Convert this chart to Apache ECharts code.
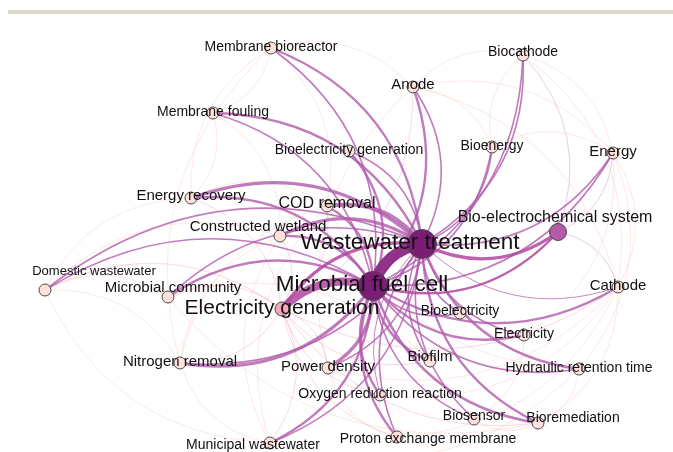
<!DOCTYPE html>
<html>
<head>
<meta charset="utf-8">
<script src="https://cdn.jsdelivr.net/npm/echarts@6/dist/echarts.min.js"></script>
<style>
html, body { margin: 0; padding: 0; background: #fff; }
#main { width: 673px; height: 452px; }
</style>
</head>
<body>
<div id="main"></div>
<script>
// keywords and their occurrence counts
var keywords = [
    "Microbial fuel cell", "Wastewater treatment", "Electricity generation", "Bio-electrochemical system",
    "Membrane bioreactor", "Biocathode", "Anode", "Membrane fouling", "Bioelectricity generation",
    "Bioenergy", "Energy", "Energy recovery", "COD removal", "Constructed wetland",
    "Domestic wastewater", "Microbial community", "Cathode", "Bioelectricity", "Electricity",
    "Biofilm", "Hydraulic retention time", "Nitrogen removal", "Power density",
    "Oxygen reduction reaction", "Biosensor", "Bioremediation", "Proton exchange membrane",
    "Municipal wastewater"
];
var occurrences = [120, 100, 30, 40, 10, 9, 12, 10, 11, 9, 10, 12, 13, 12, 9, 11, 10, 9, 10, 10, 10, 11, 12, 10, 9, 9, 10, 9];

// co-occurrence links: [source, target, weight]
var links = [
    // faint links between minor keywords
    ["Membrane bioreactor", "Membrane fouling", 1],
    ["Membrane bioreactor", "Anode", 1],
    ["Energy recovery", "Membrane bioreactor", 1],
    ["Membrane bioreactor", "COD removal", 1],
    ["Nitrogen removal", "Membrane bioreactor", 1],
    ["Membrane fouling", "Energy recovery", 1],
    ["Membrane fouling", "Constructed wetland", 1],
    ["Anode", "Cathode", 1],
    ["Anode", "Biocathode", 1],
    ["Anode", "Bioenergy", 1],
    ["Anode", "Energy", 1],
    ["Biocathode", "Cathode", 1],
    ["Bioenergy", "Biocathode", 1],
    ["Biocathode", "Energy", 1],
    ["Bioenergy", "Energy", 1],
    ["Energy", "Cathode", 1],
    ["Energy", "Hydraulic retention time", 1],
    ["Cathode", "Proton exchange membrane", 1],
    ["Cathode", "Oxygen reduction reaction", 1],
    ["Cathode", "Bioremediation", 1],
    ["Domestic wastewater", "Nitrogen removal", 1],
    ["Municipal wastewater", "Domestic wastewater", 1],
    ["Domestic wastewater", "Microbial community", 1],
    ["Domestic wastewater", "Constructed wetland", 1],
    ["Domestic wastewater", "Energy recovery", 1],
    ["Nitrogen removal", "Constructed wetland", 1],
    ["Municipal wastewater", "Nitrogen removal", 1],
    ["Nitrogen removal", "COD removal", 1],
    ["Municipal wastewater", "COD removal", 1],
    ["Municipal wastewater", "Constructed wetland", 1],
    ["Hydraulic retention time", "Municipal wastewater", 1],
    ["Proton exchange membrane", "Oxygen reduction reaction", 1],
    ["Proton exchange membrane", "Power density", 1],
    ["Power density", "Anode", 1],
    ["Cathode", "Power density", 1],
    ["Bioremediation", "Biosensor", 1],
    ["Hydraulic retention time", "Bioremediation", 1],
    ["Bioremediation", "Microbial community", 1],
    ["Electricity", "Biosensor", 1],
    ["Hydraulic retention time", "COD removal", 1],
    ["Energy recovery", "COD removal", 1],
    ["Microbial community", "Biofilm", 1],
    ["Electricity", "Bioelectricity", 1],
    ["Energy", "Electricity", 1],
    ["Bio-electrochemical system", "Cathode", 1],
    ["Energy", "Bio-electrochemical system", 1],
    ["Biocathode", "Bio-electrochemical system", 1],
    // links to electricity generation
    ["Domestic wastewater", "Electricity generation", 1],
    ["Microbial community", "Electricity generation", 1],
    ["Electricity generation", "Nitrogen removal", 1],
    ["Electricity generation", "Power density", 1],
    ["Electricity generation", "Municipal wastewater", 1],
    ["COD removal", "Electricity generation", 1],
    ["Constructed wetland", "Electricity generation", 1],
    ["Energy recovery", "Electricity generation", 1],
    ["Oxygen reduction reaction", "Electricity generation", 1],
    ["Proton exchange membrane", "Electricity generation", 1],
    ["Biofilm", "Electricity generation", 1],
    ["Anode", "Electricity generation", 1],
    ["Cathode", "Electricity generation", 1],
    ["Bioremediation", "Electricity generation", 1],
    // links to the two main keywords
    ["Membrane bioreactor", "Wastewater treatment", 3],
    ["Membrane bioreactor", "Microbial fuel cell", 2],
    ["Biocathode", "Microbial fuel cell", 2],
    ["Biocathode", "Wastewater treatment", 2],
    ["Anode", "Microbial fuel cell", 3],
    ["Anode", "Wastewater treatment", 2],
    ["Membrane fouling", "Wastewater treatment", 3],
    ["Membrane fouling", "Microbial fuel cell", 2],
    ["Bioelectricity generation", "Microbial fuel cell", 3],
    ["Bioelectricity generation", "Wastewater treatment", 2],
    ["Bioenergy", "Microbial fuel cell", 2],
    ["Bioenergy", "Wastewater treatment", 2],
    ["Energy", "Wastewater treatment", 2],
    ["Energy", "Microbial fuel cell", 2],
    ["Energy recovery", "Wastewater treatment", 4],
    ["Energy recovery", "Microbial fuel cell", 3],
    ["COD removal", "Wastewater treatment", 5],
    ["COD removal", "Microbial fuel cell", 3],
    ["Constructed wetland", "Wastewater treatment", 4],
    ["Constructed wetland", "Microbial fuel cell", 3],
    ["Domestic wastewater", "Wastewater treatment", 2],
    ["Domestic wastewater", "Microbial fuel cell", 2],
    ["Microbial community", "Microbial fuel cell", 3],
    ["Microbial community", "Wastewater treatment", 2],
    ["Cathode", "Microbial fuel cell", 3],
    ["Cathode", "Wastewater treatment", 1],
    ["Bioelectricity", "Microbial fuel cell", 2],
    ["Bioelectricity", "Wastewater treatment", 2],
    ["Electricity", "Microbial fuel cell", 3],
    ["Electricity", "Wastewater treatment", 2],
    ["Biofilm", "Microbial fuel cell", 3],
    ["Biofilm", "Wastewater treatment", 2],
    ["Hydraulic retention time", "Wastewater treatment", 3],
    ["Hydraulic retention time", "Microbial fuel cell", 2],
    ["Microbial fuel cell", "Nitrogen removal", 4],
    ["Wastewater treatment", "Nitrogen removal", 2],
    ["Microbial fuel cell", "Power density", 4],
    ["Wastewater treatment", "Power density", 2],
    ["Oxygen reduction reaction", "Microbial fuel cell", 3],
    ["Oxygen reduction reaction", "Wastewater treatment", 1],
    ["Biosensor", "Microbial fuel cell", 2],
    ["Biosensor", "Wastewater treatment", 2],
    ["Bioremediation", "Microbial fuel cell", 3],
    ["Bioremediation", "Wastewater treatment", 3],
    ["Proton exchange membrane", "Microbial fuel cell", 3],
    ["Proton exchange membrane", "Wastewater treatment", 2],
    ["Microbial fuel cell", "Municipal wastewater", 3],
    ["Wastewater treatment", "Municipal wastewater", 2],
    ["Bio-electrochemical system", "Wastewater treatment", 4],
    ["Bio-electrochemical system", "Microbial fuel cell", 3],
    ["Electricity generation", "Wastewater treatment", 4],
    ["Electricity generation", "Microbial fuel cell", 10],
    ["Microbial fuel cell", "Wastewater treatment", 14]
];

// layout (pixel positions from the map), label size and label offset
var nodeXY = {
    "Microbial fuel cell": [373, 286], "Wastewater treatment": [422, 244],
    "Electricity generation": [282, 309], "Bio-electrochemical system": [558, 232],
    "Membrane bioreactor": [271, 48], "Biocathode": [523, 55], "Anode": [413, 87],
    "Membrane fouling": [213, 113], "Bioelectricity generation": [349, 151],
    "Bioenergy": [492, 147], "Energy": [613, 153], "Energy recovery": [191, 198],
    "COD removal": [327, 206], "Constructed wetland": [280, 236],
    "Domestic wastewater": [45, 290], "Microbial community": [168, 297],
    "Cathode": [618, 287], "Bioelectricity": [460, 313], "Electricity": [524, 335],
    "Biofilm": [430, 361], "Hydraulic retention time": [579, 369],
    "Nitrogen removal": [180, 363], "Power density": [328, 368],
    "Oxygen reduction reaction": [380, 395], "Biosensor": [474, 419],
    "Bioremediation": [538, 423], "Proton exchange membrane": [397, 437],
    "Municipal wastewater": [270, 443]
};
var labelSize = {
    "Microbial fuel cell": 22.5, "Wastewater treatment": 22.5, "Electricity generation": 21,
    "Bio-electrochemical system": 16, "COD removal": 16, "Constructed wetland": 15,
    "Energy recovery": 15, "Microbial community": 15, "Nitrogen removal": 15,
    "Power density": 15, "Anode": 15, "Energy": 15, "Cathode": 15, "Biofilm": 15,
    "Domestic wastewater": 13
};
var labelOffset = {
    "Microbial fuel cell": [-11, -1], "Wastewater treatment": [-12, -1],
    "Bio-electrochemical system": [-3, -14], "Domestic wastewater": [49, -19],
    "Microbial community": [5, -9], "Constructed wetland": [-22, -9],
    "Bioremediation": [35, -5], "Proton exchange membrane": [31, 2],
    "Municipal wastewater": [-17, 2], "Biofilm": [0, -4], "Biosensor": [0, -3],
    "Biocathode": [0, -3], "Anode": [0, -2], "Energy recovery": [0, -2],
    "COD removal": [0, -2], "Bioelectricity": [0, -2]
};

var nodeColors = ['#fde1da', '#f4a8be', '#b35aa8', '#7b1d75'];
var nodeSizes = [12, 14, 17, 29];
function nodeLevel(occ){
    if(occ >= 80) return 3;
    if(occ >= 35) return 2;
    if(occ >= 25) return 1;
    return 0;
}
var levelOf = {};
var nodes = [];
for(var i = 0; i < keywords.length; i++){
    var name = keywords[i];
    var lv = nodeLevel(occurrences[i]);
    levelOf[name] = lv;
    nodes.push({
        name: name,
        value: occurrences[i],
        x: nodeXY[name][0],
        y: nodeXY[name][1],
        symbolSize: nodeSizes[lv],
        itemStyle: { color: nodeColors[lv] },
        label: {
            fontSize: labelSize[name] || 14,
            offset: labelOffset[name] || [0, -1]
        }
    });
}

// edge colour follows the darker end, faint for weak links
var edges = [];
for(var j = 0; j < links.length; j++){
    var l = links[j];
    var hi = Math.max(levelOf[l[0]], levelOf[l[1]]);
    var lo = Math.min(levelOf[l[0]], levelOf[l[1]]);
    var color, opacity;
    if(hi == 3 && lo == 3){
        color = '#8a2984'; opacity = 0.95;
    }else if(hi == 3 && lo >= 1){
        color = '#b1479f'; opacity = 0.85;
    }else if(hi == 3){
        color = '#b05aab'; opacity = 0.8;
    }else if(hi == 2){
        color = '#d49ad0'; opacity = 0.55;
    }else if(hi == 1){
        color = '#f4a9bb'; opacity = 0.5;
    }else{
        color = '#fbc3bd'; opacity = 0.45;
    }
    edges.push({
        source: l[0],
        target: l[1],
        value: l[2],
        lineStyle: {
            color: color,
            opacity: opacity,
            width: Math.max(0.9, l[2] * 0.8),
            curveness: 0.3
        }
    });
}

var chart = echarts.init(document.getElementById('main'));
chart.setOption({
    backgroundColor: '#fff',
    animation: false,
    graphic: [{
        type: 'rect',
        shape: { x: 8, y: 10, width: 665, height: 4 },
        style: { fill: '#dcd8c8' }
    }],
    series: [{
        type: 'graph',
        layout: 'none',
        left: 45, top: 48, width: 573, height: 395,
        roam: false,
        silent: true,
        data: nodes,
        links: edges,
        edgeSymbol: ['none', 'none'],
        itemStyle: { borderColor: '#4a4a4a', borderWidth: 1 },
        label: {
            show: true,
            position: 'inside',
            color: '#111',
            fontFamily: 'Liberation Sans, Arial, sans-serif'
        },
        emphasis: { disabled: true }
    }]
});
</script>
</body>
</html>
